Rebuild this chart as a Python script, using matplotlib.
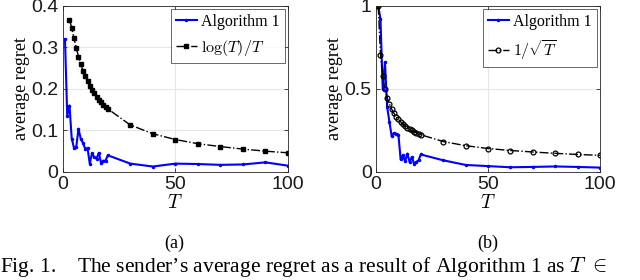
import matplotlib.pyplot as plt

plt.rcParams['mathtext.fontset'] = 'cm'

# horizon values
T = [1, 2, 3, 4, 5, 6, 7, 8, 9, 10, 11, 12, 13, 14, 15, 16, 17, 18, 19, 20,
     30, 40, 50, 60, 70, 80, 90, 100]

# (a) Algorithm 1 vs log(T)/T
alg_a = [0.32, 0.135, 0.16, 0.08, 0.058, 0.06, 0.104, 0.08, 0.07, 0.055,
         0.058, 0.02, 0.045, 0.035, 0.032, 0.046, 0.022, 0.027, 0.027, 0.04,
         0.02, 0.013, 0.02, 0.019, 0.017, 0.018, 0.023, 0.015]
T_log = T[2:]
log_ref = [0.366, 0.347, 0.322, 0.299, 0.278, 0.260, 0.244, 0.230, 0.218,
           0.207, 0.197, 0.189, 0.181, 0.174, 0.168, 0.162, 0.157, 0.152,
           0.113, 0.092, 0.078, 0.068, 0.061, 0.055, 0.050, 0.046]

# (b) Algorithm 1 vs 1/sqrt(T)
alg_b = [1.0, 0.92, 0.5, 0.66, 0.39, 0.30, 0.215, 0.235, 0.23, 0.225,
         0.075, 0.10, 0.065, 0.11, 0.06, 0.09, 0.05, 0.06, 0.07, 0.105,
         0.07, 0.042, 0.035, 0.028, 0.03, 0.033, 0.03, 0.026]
sqrt_ref = [1.0, 0.707, 0.577, 0.5, 0.447, 0.408, 0.378, 0.354, 0.333, 0.316,
            0.302, 0.289, 0.277, 0.267, 0.258, 0.25, 0.243, 0.236, 0.229, 0.224,
            0.183, 0.158, 0.141, 0.129, 0.120, 0.112, 0.105, 0.1]

fig = plt.figure(figsize=(6.4, 2.8), dpi=100)
ax1 = fig.add_axes([0.098, 0.386, 0.352, 0.593])
ax2 = fig.add_axes([0.5875, 0.386, 0.35, 0.593])


def style(ax, yticks, ylim):
    ax.set_xlim(0, 100)
    ax.set_ylim(*ylim)
    ax.set_xticks([0, 50, 100])
    ax.set_yticks(yticks)
    ax.grid(True, color='#e6e6e6', linewidth=0.8)
    ax.set_axisbelow(True)
    ax.tick_params(direction='in', length=3, width=0.6, color='#262626',
                   labelcolor='#1a1a1a', top=True, right=True, pad=3)
    for lab in ax.get_xticklabels() + ax.get_yticklabels():
        lab.set_fontfamily('Liberation Sans')
        lab.set_fontsize(14)
    for s in ax.spines.values():
        s.set_color('#262626')
        s.set_linewidth(0.6)
    ax.set_ylabel('average regret', family='Liberation Serif', fontsize=13,
                  labelpad=1)
    ax.set_xlabel('$T$', fontsize=14, labelpad=0)

ax1.plot(T, alg_a, color='#0000ff', lw=1.5, marker='.', ms=3,
         label='Algorithm 1')
ax1.plot(T_log, log_ref, color='black', lw=1, ls='-.', marker='s', ms=2.2,
         label=r'$\log(T)/T$')
style(ax1, [0, 0.1, 0.2, 0.3, 0.4], (0, 0.4))
ax1.set_yticklabels(['0', '0.1', '0.2', '0.3', '0.4'])

ax2.plot(T, alg_b, color='#0000ff', lw=1.5, marker='.', ms=3,
         label='Algorithm 1')
ax2.plot(T, sqrt_ref, color='black', lw=1, ls='-.', marker='o', ms=3.5,
         mfc='none', mew=0.9, label=r'$1/\sqrt{T}$')
style(ax2, [0, 0.5, 1], (0, 1))
ax2.set_yticklabels(['0', '0.5', '1'])

for ax in (ax1, ax2):
    leg = ax.legend(loc='upper right', prop={'family': 'Liberation Serif',
                    'size': 11.5}, frameon=True, fancybox=False,
                    borderaxespad=0.2, handlelength=1.3, handletextpad=0.3,
                    borderpad=0.3, labelspacing=0.5)
    leg.get_frame().set_edgecolor('#262626')
    leg.get_frame().set_linewidth(0.6)

fig.text(0.273, 0.115, '(a)', ha='center', family='Liberation Serif', fontsize=13)
fig.text(0.7625, 0.115, '(b)', ha='center', family='Liberation Serif', fontsize=13)
fig.text(0.0, 0.004, "Fig. 1.    The sender\u2019s average regret as a result of Algorithm 1 as $T\\ \\in$",
         ha='left', va='bottom', family='Liberation Serif', fontsize=15.5)

fig.savefig('out.png', dpi=100)
